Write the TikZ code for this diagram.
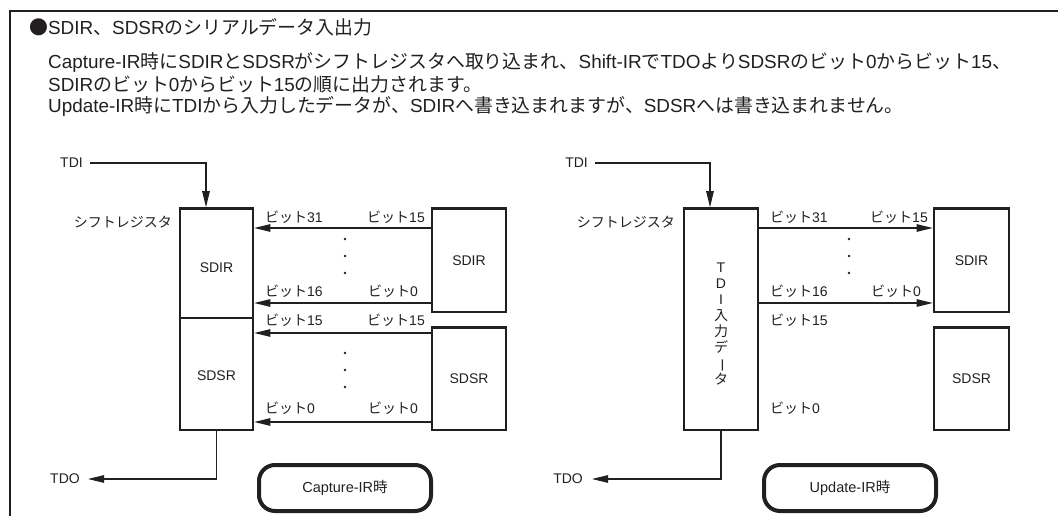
\documentclass[tikz,border=0pt]{standalone}
\usepackage{fontspec}
\usepackage{graphicx}
\setmainfont{Liberation Sans}
\newfontfamily\jpfont{Noto Sans CJK JP}
\newfontfamily\latfont{Liberation Sans}
\usetikzlibrary{arrows.meta}
% automatic switch to the Japanese font for CJK characters
\XeTeXinterchartokenstate=1
\chardef\jpclass=10
\newcount\jpc
\def\setjprange#1#2{\jpc=#1 \loop\XeTeXcharclass\jpc=\jpclass \advance\jpc by 1 \ifnum\jpc<#2 \repeat}
\setjprange{"3000}{"3100}
\setjprange{"4E00}{"A000}
\setjprange{"FF00}{"FFF0}
\XeTeXcharclass"25CF=\jpclass
\XeTeXinterchartoks 0 \jpclass={\jpfont}
\XeTeXinterchartoks 4095 \jpclass={\jpfont}
\XeTeXinterchartoks \jpclass 0={\latfont}
\definecolor{ink}{HTML}{231F20}
\begin{document}
\begin{tikzpicture}[x=1pt,y=-1pt,
  main/.style={anchor=west,inner sep=0pt,text=ink,font=\fontsize{18.9}{22}\selectfont},
  lbl/.style={inner sep=0pt,text=ink,font=\fontsize{14}{16}\selectfont},
  bx/.style={draw=ink,line width=2.6pt,inner sep=0pt,text=ink,font=\fontsize{14}{16}\selectfont},
  conn/.style={draw=ink,line width=1.1pt},
  tip/.style={-{Triangle[length=16pt,width=7.5pt]}},
  pill/.style={draw=ink,line width=4pt,rounded corners=16pt,minimum width=172pt,minimum height=46pt,inner sep=0pt,text=ink,font=\fontsize{14.5}{16}\selectfont},
  dot/.style={fill=ink}]
\useasboundingbox (0,0) rectangle (1058,516);
% frame
\draw[ink,line width=2.5pt] (1058,11) -- (10,11) -- (10,516);
% text
\node[main] (title) at (29,27) {●SDIR、SDSRのシリアルデータ入出力};
\node[main] (p1) at (48,62) {Capture-IR時にSDIRとSDSRがシフトレジスタへ取り込まれ、Shift-IRでTDOよりSDSRのビット0からビット15、};
\node[main] (p2) at (48,84) {SDIRのビット0からビット15の順に出力されます。};
\node[main] (p3) at (48,106) {Update-IR時にTDIから入力したデータが、SDIRへ書き込まれますが、SDSRへは書き込まれません。};
% row coordinates
\coordinate (r1) at (0,228);
\coordinate (r2) at (0,303);
\coordinate (r3) at (0,333);
\coordinate (r4) at (0,422);
% ===== left: Capture-IR =====
\node[bx,minimum width=73pt,minimum height=109.5pt] (ldir) at (216.5,263.25) {};
\node[bx,minimum width=73pt,minimum height=112pt] (ldsr) at (216.5,374) {};
\node[lbl] (ldirt) at (216.5,268) {SDIR};
\node[lbl] (ldsrt) at (216.5,376) {SDSR};
\node[lbl,anchor=east] (lsr) at (172,222) {シフトレジスタ};
\node[bx,minimum width=74pt,minimum height=103.5pt] (rdir) at (469,260.25) {SDIR};
\node[bx,minimum width=74pt,minimum height=102.5pt] (rdsr) at (469,378.75) {SDSR};
\draw[conn,tip] (rdir.west |- r1) -- (ldir.east |- r1);
\draw[conn,tip] (rdir.west |- r2) -- (ldir.east |- r2);
\draw[conn,tip] (rdsr.west |- r3) -- (ldsr.east |- r3);
\draw[conn,tip] (rdsr.west |- r4) -- (ldsr.east |- r4);
\node[lbl,anchor=west] (la1) at (265,217) {ビット31};
\node[lbl,anchor=east] (lb1) at (425,217) {ビット15};
\node[lbl,anchor=west] (la2) at (265,291) {ビット16};
\node[lbl,anchor=east] (lb2) at (418,291) {ビット0};
\node[lbl,anchor=west] (la3) at (265,320) {ビット15};
\node[lbl,anchor=east] (lb3) at (425,320) {ビット15};
\node[lbl,anchor=west] (la4) at (265,408) {ビット0};
\node[lbl,anchor=east] (lb4) at (418,408) {ビット0};
\foreach \yy in {239,256,273,353,370,387} \fill[dot] (345,\yy) circle (1.3pt);
\node[lbl,anchor=east] (ltdi) at (83,163) {TDI};
\draw[conn,tip] ([xshift=7pt]ltdi.east) -| ([xshift=-10.5pt]ldir.north);
\node[lbl,anchor=east] (ltdo) at (80,479) {TDO};
\draw[conn,tip] (ldsr.south) |- ([xshift=8pt]ltdo.east);
\node[pill] (cap) at (345,488) {Capture-IR時};
% ===== right: Update-IR =====
\node[bx,minimum width=74pt,minimum height=221.5pt] (rreg) at (721,319.25) {};
\node[lbl,align=center] (vtxt) at (721,324) {T\\D\\I\\入\\力\\デ\\\rotatebox[origin=c]{-90}{ー}\\タ};
\node[lbl,anchor=east] (rsr) at (675,222) {シフトレジスタ};
\node[bx,minimum width=75pt,minimum height=103.5pt] (rdir2) at (971.5,260.25) {SDIR};
\node[bx,minimum width=75pt,minimum height=102.5pt] (rdsr2) at (971.5,378.75) {SDSR};
\draw[conn,tip] (rreg.east |- r1) -- (rdir2.west |- r1);
\draw[conn,tip] (rreg.east |- r2) -- (rdir2.west |- r2);
\node[lbl,anchor=west] (ra1) at (770,217) {ビット31};
\node[lbl,anchor=east] (rb1) at (928,217) {ビット15};
\node[lbl,anchor=west] (ra2) at (770,291) {ビット16};
\node[lbl,anchor=east] (rb2) at (921,291) {ビット0};
\node[lbl,anchor=west] (ra3) at (770,320) {ビット15};
\node[lbl,anchor=west] (ra4) at (770,408) {ビット0};
\foreach \yy in {239,256,273} \fill[dot] (849,\yy) circle (1.3pt);
\node[lbl,anchor=east] (rtdi) at (588,163) {TDI};
\draw[conn,tip] ([xshift=7pt]rtdi.east) -| ([xshift=-11pt]rreg.north);
\node[lbl,anchor=east] (rtdo) at (583,479) {TDO};
\draw[conn,tip] (rreg.south) |- ([xshift=9pt]rtdo.east);
\node[pill] (upd) at (850,488) {Update-IR時};
\end{tikzpicture}
\end{document}
